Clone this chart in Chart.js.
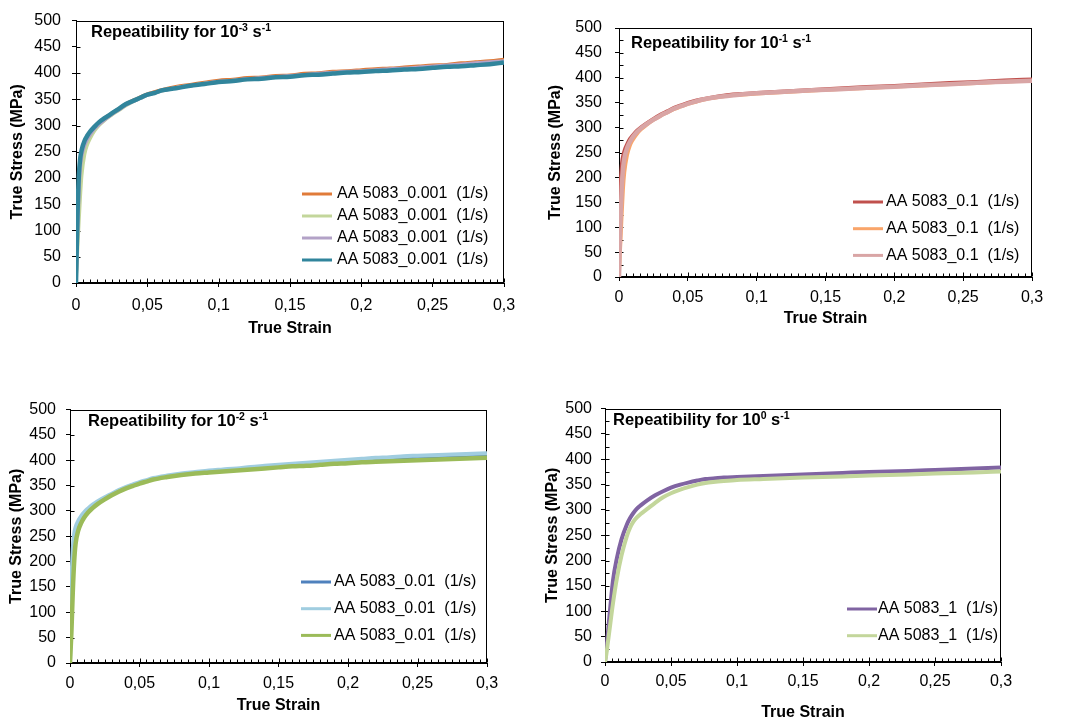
<!DOCTYPE html>
<html>
<head>
<meta charset="utf-8">
<script src="https://cdn.jsdelivr.net/npm/chart.js@4/dist/chart.umd.min.js"></script>
<style>
  body { margin: 0; background: #fff; }
  #wrap { position: relative; width: 1065px; height: 722px; overflow: hidden; }
  canvas { position: absolute; }
  .ptitle { position: absolute; font: bold 16.5px "Liberation Sans", Arial, sans-serif; line-height: 18px; white-space: nowrap; color: #000; }
  .ptitle sup { font-size: 10.5px; vertical-align: 6px; line-height: 0; }
</style>
</head>
<body>
<div id="wrap">
  <canvas id="c1" width="525" height="340" style="left:0;top:0"></canvas>
  <canvas id="c2" width="535" height="340" style="left:530px;top:0"></canvas>
  <canvas id="c3" width="525" height="332" style="left:0;top:390px"></canvas>
  <canvas id="c4" width="535" height="332" style="left:530px;top:390px"></canvas>
  <div class="ptitle" style="left:91px;top:22px">Repeatibility for 10<sup>-3</sup> s<sup>-1</sup></div>
  <div class="ptitle" style="left:631px;top:33px">Repeatibility for 10<sup>-1</sup> s<sup>-1</sup></div>
  <div class="ptitle" style="left:88px;top:411px">Repeatibility for 10<sup>-2</sup> s<sup>-1</sup></div>
  <div class="ptitle" style="left:613px;top:410px">Repeatibility for 10<sup>0</sup> s<sup>-1</sup></div>
</div>
<script>
// strain rate 10^-3
const strain1 = [0, 0.001, 0.002, 0.003, 0.004, 0.006, 0.008, 0.01, 0.013, 0.016, 0.02, 0.025, 0.03, 0.035, 0.04, 0.045, 0.05, 0.055, 0.06, 0.07, 0.08, 0.09, 0.1, 0.11, 0.12, 0.13, 0.14, 0.15, 0.16, 0.17, 0.18, 0.19, 0.2, 0.21, 0.22, 0.23, 0.24, 0.25, 0.26, 0.27, 0.28, 0.29, 0.3];
const stress1a = [0, 110, 195, 232, 250, 268, 279, 287, 297, 305, 314, 323, 332, 341, 348, 354, 360, 364, 368, 374, 378, 382, 386, 388, 391, 392, 395, 396, 399, 400, 403, 404, 406, 408, 409, 411, 413, 415, 416, 419, 421, 423, 426];
const stress1b = [0, 60, 115, 165, 205, 245, 264, 276, 290, 300, 310, 320, 329, 338, 346, 352, 358, 362, 366, 372, 376, 380, 383, 386, 388, 390, 392, 394, 396, 398, 400, 402, 403, 405, 407, 408, 410, 412, 414, 415, 417, 419, 422];
const stress1c = [0, 90, 170, 220, 242, 262, 274, 283, 294, 302, 311, 321, 330, 339, 346, 352, 358, 362, 366, 372, 376, 380, 384, 386, 389, 391, 393, 395, 397, 399, 401, 403, 404, 406, 408, 409, 411, 413, 415, 417, 419, 421, 423];
const stress1d = [0, 125, 205, 238, 254, 271, 281, 289, 298, 306, 314, 323, 332, 341, 347, 353, 359, 362, 367, 371, 376, 379, 383, 385, 388, 389, 392, 393, 396, 397, 399, 401, 402, 404, 405, 407, 408, 410, 412, 413, 415, 417, 420];
const labels1 = ["AA 5083_0.001  (1/s)", "AA 5083_0.001  (1/s)", "AA 5083_0.001  (1/s)", "AA 5083_0.001  (1/s)"];

// strain rate 10^-1
const strain2 = [0, 0.0005, 0.001, 0.002, 0.003, 0.004, 0.006, 0.008, 0.01, 0.013, 0.016, 0.02, 0.025, 0.03, 0.035, 0.04, 0.045, 0.05, 0.055, 0.06, 0.07, 0.08, 0.09, 0.1, 0.12, 0.14, 0.16, 0.18, 0.2, 0.22, 0.24, 0.26, 0.28, 0.3];
const stress2a = [0, 110, 180, 228, 245, 255, 268, 278, 285, 294, 301, 309, 318, 326, 333, 340, 345, 350, 354, 357, 362, 366, 368, 370, 373, 376, 379, 382, 384, 387, 390, 392, 395, 397];
const stress2b = [0, 30, 60, 120, 175, 210, 245, 264, 275, 287, 296, 305, 315, 323, 330, 337, 342, 347, 351, 355, 360, 364, 366, 368, 371, 374, 377, 379, 382, 384, 387, 389, 392, 394];
const stress2c = [0, 60, 110, 180, 220, 240, 260, 272, 281, 291, 299, 307, 316, 324, 331, 338, 343, 348, 352, 356, 361, 364, 367, 369, 372, 375, 377, 380, 382, 385, 387, 390, 392, 394];
const labels2 = ["AA 5083_0.1  (1/s)", "AA 5083_0.1  (1/s)", "AA 5083_0.1  (1/s)"];

// strain rate 10^-2
const strain3 = [0, 0.001, 0.002, 0.003, 0.004, 0.006, 0.008, 0.01, 0.013, 0.016, 0.02, 0.025, 0.03, 0.035, 0.04, 0.045, 0.05, 0.055, 0.06, 0.07, 0.08, 0.09, 0.1, 0.11, 0.12, 0.13, 0.14, 0.15, 0.16, 0.17, 0.18, 0.19, 0.2, 0.21, 0.22, 0.23, 0.24, 0.25, 0.26, 0.27, 0.28, 0.29, 0.3];
const stress3a = [0, 120, 200, 240, 258, 275, 285, 293, 302, 309, 316, 325, 332, 339, 345, 350, 355, 359, 363, 368, 372, 375, 378, 380, 382, 384, 386, 388, 390, 392, 394, 396, 397, 399, 400, 402, 403, 404, 405, 406, 407, 408, 409];
const stress3b = [0, 150, 225, 255, 268, 281, 290, 297, 305, 312, 319, 327, 334, 341, 347, 352, 357, 361, 365, 370, 374, 377, 380, 382, 384, 387, 389, 391, 393, 395, 397, 399, 401, 403, 405, 406, 408, 409, 410, 411, 412, 413, 414];
const stress3c = [0, 60, 140, 200, 235, 262, 276, 286, 297, 305, 314, 323, 331, 338, 344, 349, 354, 358, 362, 367, 371, 374, 376, 378, 380, 382, 384, 386, 388, 389, 391, 393, 394, 396, 397, 398, 399, 400, 401, 402, 403, 404, 405];
const labels3 = ["AA 5083_0.01  (1/s)", "AA 5083_0.01  (1/s)", "AA 5083_0.01  (1/s)"];

// strain rate 10^0
const strain4 = [0, 0.001, 0.002, 0.004, 0.006, 0.009, 0.0125, 0.0165, 0.019, 0.0215, 0.024, 0.027, 0.032, 0.038, 0.044, 0.05, 0.057, 0.063, 0.07, 0.076, 0.082, 0.09, 0.1, 0.12, 0.15, 0.18, 0.2, 0.23, 0.25, 0.28, 0.3];
const stress4a = [0, 25, 52, 108, 160, 205, 242, 271, 284, 294, 302, 309, 319, 329, 337, 344, 350, 354, 358, 361, 362, 364, 365, 367, 370, 373, 375, 377, 379, 382, 384];
const stress4b = [0, 15, 35, 75, 115, 165, 210, 248, 265, 277, 285, 292, 302, 314, 325, 333, 340, 345, 350, 353, 355, 357, 359, 361, 364, 366, 368, 370, 372, 374, 376];
const labels4 = ["AA 5083_1  (1/s)", "AA 5083_1  (1/s)"];

const xTicks = { min: 0, max: 0.3, step: 0.05 };
const yTicks = { min: 0, max: 500, step: 50 };

Chart.defaults.font.family = '"Liberation Sans", Arial, sans-serif';
Chart.defaults.font.size = 16;
Chart.defaults.color = '#000';

// frame box plus the inner tick marks (Excel style)
const frameTicks = {
  id: 'frameTicks',
  beforeDatasetsDraw(chart, args, opts) {
    const { ctx, chartArea: a, scales: { x, y } } = chart;
    ctx.save();
    ctx.strokeStyle = '#000';
    ctx.lineWidth = 1;
    const L = Math.round(a.left) + 0.5, R = Math.round(a.right) - 0.5;
    const T = Math.round(a.top) + 0.5, B = Math.round(a.bottom) - 0.5;
    ctx.strokeRect(L, T, R - L, B - T);
    ctx.beginPath();
    for (let k = 0; k <= 60; k++) {
      const px = Math.round(x.getPixelForValue(k * 0.005)) + 0.5;
      const len = k % 10 === 0 ? 4 : 3;
      ctx.moveTo(px, B);
      ctx.lineTo(px, B - len);
    }
    for (let k = 0; k <= 10; k++) {
      const py = Math.round(y.getPixelForValue(k * 50)) + 0.5;
      ctx.moveTo(L, py);
      ctx.lineTo(L + 4, py);
      if (opts.yMinor && k < 10) {
        const pm = Math.round(y.getPixelForValue(k * 50 + 25)) + 0.5;
        ctx.moveTo(L, pm);
        ctx.lineTo(L + 4, pm);
      }
    }
    ctx.stroke();
    ctx.restore();
  }
};

// legend drawn inside the plot area
const boxLegend = {
  id: 'boxLegend',
  afterDraw(chart, args, opts) {
    const ctx = chart.ctx;
    ctx.save();
    ctx.font = '16px "Liberation Sans", Arial, sans-serif';
    ctx.textBaseline = 'middle';
    chart.data.datasets.forEach((ds, i) => {
      const yy = opts.y + i * opts.gap;
      ctx.strokeStyle = ds.borderColor;
      ctx.lineWidth = 3;
      ctx.beginPath();
      ctx.moveTo(opts.x, yy);
      ctx.lineTo(opts.x + 30, yy);
      ctx.stroke();
      ctx.fillStyle = '#000';
      ctx.fillText(ds.label, opts.x + opts.textOff, yy);
    });
    ctx.restore();
  }
};

function series(strain, stress) {
  return stress.map((v, i) => ({ x: strain[i], y: v }));
}

function makeChart(id, strain, stresses, labels, colors, widths, p) {
  const n = stresses.length;
  new Chart(document.getElementById(id), {
    type: 'line',
    data: {
      datasets: stresses.map((s, i) => ({
        label: labels[i],
        data: series(strain, s),
        borderColor: colors[i],
        borderWidth: widths[i],
        pointRadius: 0,
        cubicInterpolationMode: 'monotone',
        order: n - 1 - i
      }))
    },
    options: {
      responsive: false,
      animation: false,
      events: [],
      layout: { padding: { top: p.padTop, right: p.padRight, left: 0, bottom: 0 } },
      plugins: {
        legend: { display: false },
        tooltip: { enabled: false },
        frameTicks: { yMinor: p.yMinor },
        boxLegend: p.legend
      },
      scales: {
        x: {
          type: 'linear',
          min: xTicks.min, max: xTicks.max,
          afterFit: (s) => { s.height = p.xHeight; },
          border: { color: '#000', width: 1 },
          grid: { drawOnChartArea: false, tickLength: 4, tickColor: '#000' },
          ticks: {
            stepSize: xTicks.step,
            padding: p.xPad,
            maxRotation: 0,
            callback: (v) => String(Math.round(v * 100) / 100).replace('.', ',')
          },
          title: { display: true, text: 'True Strain', font: { size: 16, weight: 'bold' }, padding: { top: 0, bottom: p.xTitlePad } }
        },
        y: {
          min: yTicks.min, max: yTicks.max,
          afterFit: (s) => { s.width = p.yWidth; },
          border: { color: '#000', width: 1 },
          grid: { drawOnChartArea: false, tickLength: 4, tickColor: '#000' },
          ticks: { stepSize: yTicks.step, padding: p.yPad },
          title: { display: true, text: 'True Stress (MPa)', font: { size: 16, weight: 'bold' }, padding: { top: p.yTitlePad, bottom: 0 } }
        }
      }
    },
    plugins: [frameTicks, boxLegend]
  });
}

makeChart('c1', strain1, [stress1a, stress1b, stress1c, stress1d], labels1,
  ['#E07B39', '#C3D69B', '#B3A2C7', '#31859C'], [3.5, 3.5, 3.5, 4.5],
  { padTop: 15, padRight: 21, xHeight: 57, yWidth: 76, xPad: 9, yPad: 11, xTitlePad: 2, yTitlePad: 8, yMinor: false,
    legend: { x: 302, y: 194, gap: 22, textOff: 35 } });

makeChart('c2', strain2, [stress2a, stress2b, stress2c], labels2,
  ['#C0504D', '#F9A56A', '#D9A5A5'], [3.5, 3.5, 4.5],
  { padTop: 28, padRight: 33, xHeight: 63, yWidth: 89, xPad: 7, yPad: 13, xTitlePad: 12, yTitlePad: 16, yMinor: true,
    legend: { x: 323, y: 202, gap: 26.7, textOff: 33 } });

makeChart('c3', strain3, [stress3a, stress3b, stress3c], labels3,
  ['#4F81BD', '#A0CDE0', '#9BBB59'], [3.5, 4, 4.5],
  { padTop: 18, padRight: 38, xHeight: 59, yWidth: 70, xPad: 7, yPad: 10, xTitlePad: 7, yTitlePad: 7, yMinor: false,
    legend: { x: 301, y: 192, gap: 26.7, textOff: 33 } });

makeChart('c4', strain4, [stress4a, stress4b], labels4,
  ['#8064A2', '#C3D69B'], [4, 4],
  { padTop: 17, padRight: 64, xHeight: 60, yWidth: 75, xPad: 6, yPad: 9, xTitlePad: 0, yTitlePad: 13, yMinor: true,
    legend: { x: 317, y: 219, gap: 26.7, textOff: 31 } });
</script>
</body>
</html>
